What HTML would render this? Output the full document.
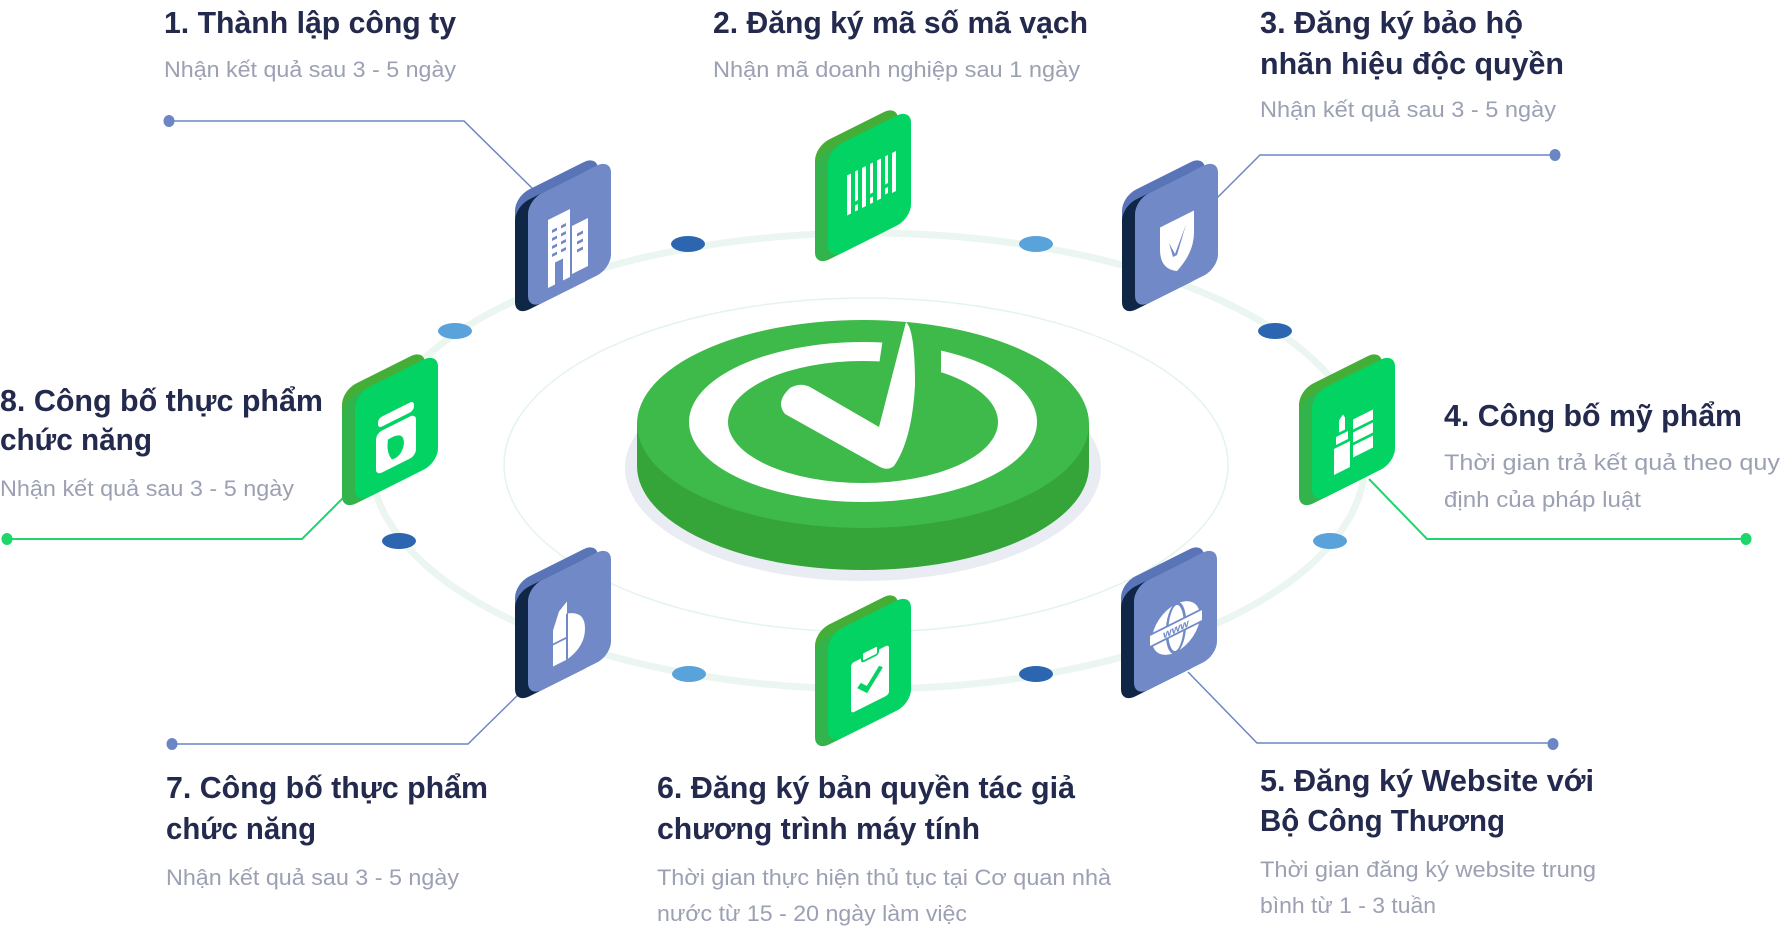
<!DOCTYPE html>
<html><head><meta charset="utf-8">
<style>
html,body{margin:0;padding:0;background:#fff;}
svg{display:block;}
.t{font-family:"Liberation Sans",sans-serif;font-weight:bold;font-size:31px;fill:#232a4e;}
.s{font-family:"Liberation Sans",sans-serif;font-size:22px;fill:#9ba0b3;}
</style></head><body>
<svg width="1787" height="934" viewBox="0 0 1787 934" xmlns="http://www.w3.org/2000/svg">
<defs>
<g id="blueTile">
  <rect x="0" y="-10" width="83" height="110" rx="14" fill="#5a74b8"/>
  <rect x="0" y="0" width="83" height="110" rx="14" fill="#0f2646"/>
  <rect x="13" y="0" width="83" height="110" rx="14" fill="#718ac7"/>
</g>
<g id="greenTile">
  <rect x="0" y="-10" width="83" height="110" rx="14" fill="#44ae36"/>
  <rect x="0" y="0" width="83" height="110" rx="14" fill="#33b34b"/>
  <rect x="13" y="0" width="83" height="110" rx="14" fill="#02d363"/>
</g>
</defs>

<!-- ring -->
<ellipse cx="868" cy="461" rx="497" ry="228" fill="none" stroke="#ebf6f1" stroke-width="7"/>
<ellipse cx="866" cy="465" rx="362" ry="167" fill="none" stroke="#e4f4ec" stroke-width="1.5"/>

<!-- dots -->
<g>
<ellipse cx="688" cy="244" rx="17" ry="8" fill="#2c66b1"/>
<ellipse cx="1036" cy="244" rx="17" ry="8" fill="#5aa2da"/>
<ellipse cx="455" cy="331" rx="17" ry="8" fill="#5aa2da"/>
<ellipse cx="1275" cy="331" rx="17" ry="8" fill="#2c66b1"/>
<ellipse cx="399" cy="541" rx="17" ry="8" fill="#2c66b1"/>
<ellipse cx="1330" cy="541" rx="17" ry="8" fill="#5aa2da"/>
<ellipse cx="689" cy="674" rx="17" ry="8" fill="#5aa2da"/>
<ellipse cx="1036" cy="674" rx="17" ry="8" fill="#2c66b1"/>
</g>

<!-- center disc -->
<ellipse cx="863" cy="468" rx="238" ry="113" fill="#e9edf3"/>
<path d="M637,424 L637,466 A226,104 0 0 0 1089,466 L1089,424 Z" fill="#35a439"/>
<ellipse cx="863" cy="424" rx="226" ry="104" fill="#3dba4a"/>
<ellipse cx="863" cy="422" rx="174" ry="80" fill="#fff"/>
<ellipse cx="863" cy="422" rx="135" ry="61" fill="#3dba4a"/>
<polygon points="883,338 941,338 941,373 879,365" fill="#3dba4a"/>
<path d="M790,388 Q800,382 810,387 L879,427 L906,322 Q915,330 915,385 Q912,440 894,466 Q888,471 880,467 L785,414 Q775,402 790,388 Z" fill="#fff"/>

<!-- connectors -->
<g fill="none" stroke-width="1.5">
<polyline points="170,121 464,121 534,190" stroke="#6c86c5"/>
<polyline points="1217,198 1260,155 1555,155" stroke="#6c86c5"/>
<polyline points="1369,479 1427,539 1746,539" stroke="#1fd66a" stroke-width="2"/>
<polyline points="1188,672 1257,743 1553,743" stroke="#6c86c5"/>
<polyline points="172,744 468,744 522,691" stroke="#6c86c5"/>
<polyline points="7,539 302,539 344,497" stroke="#1fd66a" stroke-width="2"/>
</g>
<g>
<ellipse cx="169" cy="121" rx="5.5" ry="6" fill="#6c86c5"/>
<ellipse cx="1555" cy="155" rx="5.5" ry="6" fill="#6c86c5"/>
<ellipse cx="1746" cy="539" rx="5.5" ry="6" fill="#1fd66a"/>
<ellipse cx="1553" cy="744" rx="5.5" ry="6" fill="#6c86c5"/>
<ellipse cx="172" cy="744" rx="5.5" ry="6" fill="#6c86c5"/>
<ellipse cx="7" cy="539" rx="5.5" ry="6" fill="#1fd66a"/>
</g>

<!-- 1 building -->
<g transform="matrix(1,-0.5,0,1,515,206.5)">
  <use href="#blueTile"/>
  <g fill="#fff">
    <path d="M33,30 h22 v68 h-7 v-22 h-8 v22 h-7 z"/>
    <rect x="57" y="48" width="16" height="48"/>
  </g>
  <g fill="#718ac7">
    <rect x="37" y="42" width="5" height="3"/><rect x="46" y="42" width="5" height="3"/>
    <rect x="37" y="50" width="5" height="3"/><rect x="46" y="50" width="5" height="3"/>
    <rect x="37" y="58" width="5" height="3"/><rect x="46" y="58" width="5" height="3"/>
    <rect x="37" y="66" width="5" height="3"/><rect x="46" y="66" width="5" height="3"/>
    <rect x="62" y="58" width="6" height="3"/><rect x="62" y="66" width="6" height="3"/><rect x="62" y="74" width="6" height="3"/>
  </g>
</g>
<!-- 2 barcode -->
<g transform="matrix(1,-0.5,0,1,815,156.5)">
  <use href="#greenTile"/>
  <g fill="#fff">
    <rect x="32" y="35" width="4" height="40"/>
    <rect x="40" y="35" width="3" height="30"/><rect x="40" y="69" width="3" height="6"/>
    <rect x="47" y="35" width="4" height="40"/>
    <rect x="55" y="35" width="3" height="30"/><rect x="55" y="69" width="3" height="6"/>
    <rect x="62" y="35" width="4" height="40"/>
    <rect x="70" y="35" width="3" height="28"/><rect x="70" y="67" width="3" height="6"/>
    <rect x="77" y="35" width="4" height="40"/>
  </g>
</g>
<!-- 3 shield -->
<g transform="matrix(1,-0.5,0,1,1122,206.5)">
  <use href="#blueTile"/>
  <path d="M38,40 L72,40 L72,62 Q72,82 55,92 Q38,82 38,62 Z" fill="#fff"/>
  <path d="M47,60 L53,74 L64,50 L55,76 L51,76 Z" fill="#718ac7"/>
</g>
<!-- 4 lipstick -->
<g transform="matrix(1,-0.5,0,1,1299,400.5)">
  <use href="#greenTile"/>
  <g fill="#fff">
    <path d="M40,40 L44,36 L46,40 L46,52 L40,52 Z"/>
    <rect x="37" y="55" width="12" height="8"/>
    <rect x="35" y="66" width="16" height="26"/>
    <rect x="54" y="46" width="20" height="10"/>
    <rect x="54" y="59" width="20" height="10"/>
    <rect x="54" y="72" width="20" height="12"/>
  </g>
</g>
<!-- 5 www globe -->
<g transform="matrix(1,-0.5,0,1,1121,593.5)">
  <use href="#blueTile"/>
  <circle cx="55" cy="62" r="24" fill="#fff"/>
  <ellipse cx="55" cy="62" rx="9" ry="24" fill="none" stroke="#718ac7" stroke-width="2.5"/>
  <rect x="28" y="56" width="54" height="12" fill="#fff" stroke="#718ac7" stroke-width="2"/>
  <text x="55" y="66.5" font-family="Liberation Sans,sans-serif" font-weight="bold" font-size="11" fill="#718ac7" text-anchor="middle">www</text>
</g>
<!-- 6 clipboard -->
<g transform="matrix(1,-0.5,0,1,815,641.5)">
  <use href="#greenTile"/>
  <rect x="36" y="40" width="38" height="50" rx="3" fill="#fff"/>
  <rect x="47" y="35" width="16" height="9" rx="2" fill="#fff" stroke="#02d363" stroke-width="2"/>
  <path d="M44,66 L52,74 L66,58" fill="none" stroke="#02d363" stroke-width="5"/>
</g>
<!-- 7 milk carton -->
<g transform="matrix(1,-0.5,0,1,515,593.5)">
  <use href="#blueTile"/>
  <path d="M44,40 L52,34 L52,46 Q70,52 70,70 Q70,88 52,92 L38,92 L38,56 Z" fill="#fff"/>
  <path d="M38,70 L52,70 M52,46 L52,92" stroke="#718ac7" stroke-width="2" fill="none"/>
</g>
<!-- 8 jar leaf -->
<g transform="matrix(1,-0.5,0,1,342,400.5)">
  <use href="#greenTile"/>
  <rect x="36" y="36" width="36" height="10" rx="4" fill="#fff"/>
  <rect x="34" y="50" width="40" height="42" rx="6" fill="#fff"/>
  <path d="M46,62 Q62,60 62,74 Q60,86 50,84 Q44,74 46,62 Z" fill="#02d363"/>
</g>

<!-- text -->
<text class="t" x="164" y="33" textLength="292" lengthAdjust="spacingAndGlyphs">1. Thành lập công ty</text>
<text class="s" x="164" y="77" textLength="292" lengthAdjust="spacingAndGlyphs">Nhận kết quả sau 3 - 5 ngày</text>

<text class="t" x="713" y="33" textLength="375" lengthAdjust="spacingAndGlyphs">2. Đăng ký mã số mã vạch</text>
<text class="s" x="713" y="77" textLength="367" lengthAdjust="spacingAndGlyphs">Nhận mã doanh nghiệp sau 1 ngày</text>

<text class="t" x="1260" y="33" textLength="263" lengthAdjust="spacingAndGlyphs">3. Đăng ký bảo hộ</text>
<text class="t" x="1260" y="74" textLength="304" lengthAdjust="spacingAndGlyphs">nhãn hiệu độc quyền</text>
<text class="s" x="1260" y="117" textLength="296" lengthAdjust="spacingAndGlyphs">Nhận kết quả sau 3 - 5 ngày</text>

<text class="t" x="1444" y="426" textLength="298" lengthAdjust="spacingAndGlyphs">4. Công bố mỹ phẩm</text>
<text class="s" x="1444" y="470" textLength="336" lengthAdjust="spacingAndGlyphs">Thời gian trả kết quả theo quy</text>
<text class="s" x="1444" y="507" textLength="197" lengthAdjust="spacingAndGlyphs">định của pháp luật</text>

<text class="t" x="1260" y="791" textLength="334" lengthAdjust="spacingAndGlyphs">5. Đăng ký Website với</text>
<text class="t" x="1260" y="831" textLength="245" lengthAdjust="spacingAndGlyphs">Bộ Công Thương</text>
<text class="s" x="1260" y="877" textLength="336" lengthAdjust="spacingAndGlyphs">Thời gian đăng ký website trung</text>
<text class="s" x="1260" y="913" textLength="176" lengthAdjust="spacingAndGlyphs">bình từ 1 - 3 tuần</text>

<text class="t" x="657" y="798" textLength="418" lengthAdjust="spacingAndGlyphs">6. Đăng ký bản quyền tác giả</text>
<text class="t" x="657" y="839" textLength="323" lengthAdjust="spacingAndGlyphs">chương trình máy tính</text>
<text class="s" x="657" y="885" textLength="454" lengthAdjust="spacingAndGlyphs">Thời gian thực hiện thủ tục tại Cơ quan nhà</text>
<text class="s" x="657" y="921" textLength="310" lengthAdjust="spacingAndGlyphs">nước từ 15 - 20 ngày làm việc</text>

<text class="t" x="166" y="798" textLength="322" lengthAdjust="spacingAndGlyphs">7. Công bố thực phẩm</text>
<text class="t" x="166" y="839" textLength="150" lengthAdjust="spacingAndGlyphs">chức năng</text>
<text class="s" x="166" y="885" textLength="293" lengthAdjust="spacingAndGlyphs">Nhận kết quả sau 3 - 5 ngày</text>

<text class="t" x="0" y="411" textLength="323" lengthAdjust="spacingAndGlyphs">8. Công bố thực phẩm</text>
<text class="t" x="0" y="450" textLength="152" lengthAdjust="spacingAndGlyphs">chức năng</text>
<text class="s" x="0" y="496" textLength="294" lengthAdjust="spacingAndGlyphs">Nhận kết quả sau 3 - 5 ngày</text>
</svg>
</body></html>
